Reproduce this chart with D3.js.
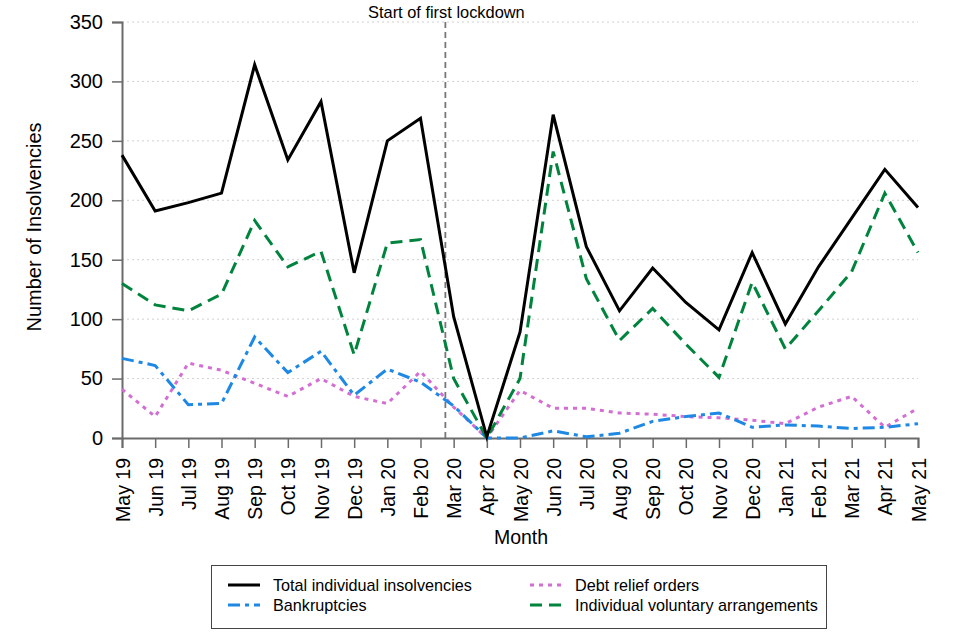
<!DOCTYPE html>
<html><head><meta charset="utf-8">
<script src="https://cdn.jsdelivr.net/npm/d3@7"></script>
<style>body{margin:0;background:#fff;} text{font-family:"Liberation Sans",Arial,sans-serif;}</style>
</head><body>
<svg id="chart" width="960" height="640"></svg>
<script>
const months = ["May 19","Jun 19","Jul 19","Aug 19","Sep 19","Oct 19","Nov 19","Dec 19","Jan 20","Feb 20","Mar 20","Apr 20","May 20","Jun 20","Jul 20","Aug 20","Sep 20","Oct 20","Nov 20","Dec 20","Jan 21","Feb 21","Mar 21","Apr 21","May 21"];
const total = [238,191,198,206,314,234,283,139,250,269,102,1,89,272,161,107,143,114,91,156,96,144,185,226,194];
const bankruptcies = [67,61,28,29,85,55,73,36,58,47,27,0,0,6,1,4,14,18,21,9,11,10,8,9,12];
const dro = [41,18,63,57,46,35,50,35,29,56,26,0,40,25,25,21,20,18,17,15,12,26,35,9,25];
const iva = [130,112,107,121,183,144,157,70,164,167,50,0,50,241,134,82,109,79,51,131,75,107,140,206,156];
const yTicks = [0,50,100,150,200,250,300,350];
const lockdownPos = 9.75;
const lockdownLabel = "Start of first lockdown";
const seriesNames = ["Total individual insolvencies","Bankruptcies","Debt relief orders","Individual voluntary arrangements"];

const svg = d3.select("#chart");
const L = 122, R = 918, T = 22, B = 438;
const x = d3.scaleLinear().domain([0, months.length-1]).range([L, R]);
const y = d3.scaleLinear().domain([0, 350]).range([B, T]);
const axisCol = "#6b6b6b";
const FF = "Liberation Sans, Arial, sans-serif";

// gridlines
svg.append("g").selectAll("line").data(yTicks.filter(d=>d>0)).join("line")
  .attr("x1", L).attr("x2", R).attr("y1", d=>y(d)).attr("y2", d=>y(d))
  .attr("stroke", "#d0d0d0").attr("stroke-width", 1).attr("stroke-dasharray", "2,3");

// y axis
const ya = svg.append("g").attr("transform", `translate(${L},0)`)
  .call(d3.axisLeft(y).tickValues(yTicks).tickSize(10).tickPadding(9).tickFormat(d3.format("d")));
ya.select(".domain").attr("stroke", axisCol).attr("stroke-width", 2);
ya.selectAll(".tick line").attr("stroke", axisCol).attr("stroke-width", 1.5);
ya.selectAll(".tick text").attr("font-size", 20).attr("fill", "#000").attr("font-family", FF);

// x axis
const xa = svg.append("g").attr("transform", `translate(0,${B})`)
  .call(d3.axisBottom(x).tickValues(d3.range(months.length)).tickSize(10).tickFormat(i=>months[i]));
xa.select(".domain").attr("stroke", axisCol).attr("stroke-width", 2);
xa.selectAll(".tick line").attr("stroke", axisCol).attr("stroke-width", 1.5);
xa.selectAll(".tick text").attr("font-size", 19.5).attr("fill", "#000").attr("font-family", FF)
  .attr("text-anchor", "end").attr("dx", "-10").attr("dy", "0.36em").attr("x", 0).attr("y", 0)
  .attr("transform", "translate(0,10) rotate(-90)");

// lockdown line
svg.append("line").attr("x1", x(lockdownPos)).attr("x2", x(lockdownPos)).attr("y1", 22).attr("y2", B)
  .attr("stroke", "#777").attr("stroke-width", 1.8).attr("stroke-dasharray", "6,4");
svg.append("text").attr("x", x(lockdownPos)+1).attr("y", 18).attr("text-anchor", "middle")
  .attr("font-size", 16.4).text(lockdownLabel);

const styles = [
  {data: total, color: "#000000", dash: null},
  {data: bankruptcies, color: "#1E88E5", dash: "12,5,4,5"},
  {data: dro, color: "#D36FD3", dash: "4,5"},
  {data: iva, color: "#00843D", dash: "12,7"}
];
const line = d3.line().x((d,i)=>x(i)).y(d=>y(d));
const drawOrder = [2,1,3,0];
drawOrder.forEach(k => {
  const s = styles[k];
  svg.append("path").datum(s.data).attr("d", line).attr("fill", "none")
    .attr("stroke", s.color).attr("stroke-width", 3)
    .attr("stroke-dasharray", s.dash).attr("stroke-linejoin", "miter");
});

// axis titles
svg.append("text").attr("x", (L+R)/2+1).attr("y", 544).attr("text-anchor", "middle").attr("font-size", 19.5).text("Month");
svg.append("text").attr("transform", `translate(41,${(T+B)/2-3}) rotate(-90)`).attr("text-anchor", "middle").attr("font-size", 20).text("Number of Insolvencies");

// legend
const lg = svg.append("g");
lg.append("rect").attr("x", 211.5).attr("y", 565.5).attr("width", 615).attr("height", 63)
  .attr("fill", "#fff").attr("stroke", "#444").attr("stroke-width", 1);
const pos = [[228,585],[228,605],[530,585],[530,605]];
seriesNames.forEach((n,i) => {
  const s = styles[i];
  lg.append("line").attr("x1", pos[i][0]).attr("x2", pos[i][0]+32).attr("y1", pos[i][1]).attr("y2", pos[i][1])
    .attr("stroke", s.color).attr("stroke-width", 3).attr("stroke-dasharray", s.dash);
  lg.append("text").attr("x", pos[i][0]+45).attr("y", pos[i][1]+5.5).attr("font-size", 16.2).text(n);
});
</script>
</body></html>
